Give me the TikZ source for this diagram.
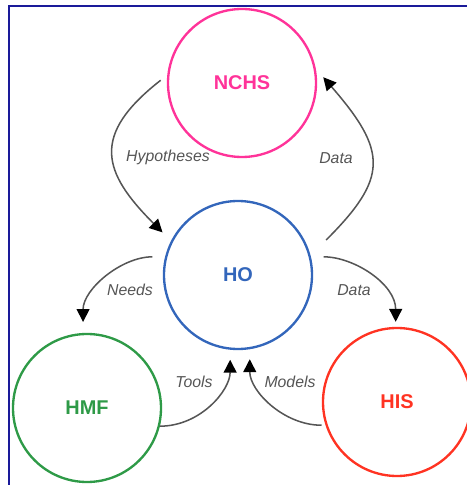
\documentclass[tikz,border=0pt]{standalone}
\usepackage{fontspec}
\setmainfont{Liberation Sans}
\usepackage{tikz}
\usetikzlibrary{shapes,arrows.meta}
\definecolor{nchscol}{HTML}{FF3399}
\definecolor{hocol}{HTML}{3366BB}
\definecolor{hmfcol}{HTML}{2E9A47}
\definecolor{hiscol}{HTML}{FF3322}
\definecolor{framecol}{HTML}{1A1A99}
\definecolor{flowcol}{HTML}{555555}
\tikzset{
  unit/.style={circle,draw,line width=2pt,minimum size=4.44cm,inner sep=0pt,font=\fontsize{17}{17}\selectfont\bfseries},
  flow/.style={draw=flowcol,line width=1.3pt,-{Triangle[length=11pt,width=11pt,color=black]}},
  lbl/.style={anchor=center,text=flowcol,font=\fontsize{13.5}{13.5}\selectfont\itshape}
}
\begin{document}
\begin{tikzpicture}
  \useasboundingbox (-7.14,-6.30) rectangle (6.87,8.25);
  \draw[framecol,line width=1.3pt] (-6.87,-6.30) -- (-6.87,8.07) -- (6.87,8.07);

  \node[unit,draw=nchscol,text=nchscol,xshift=0.12cm,yshift=5.76cm](nchs){NCHS};
  \node[unit,draw=hocol,  text=hocol](ho){HO};
  \node[unit,draw=hmfcol, text=hmfcol,xshift=-4.53cm,yshift=-3.99cm](hmf){HMF};
  \node[unit,draw=hiscol, text=hiscol,xshift=4.77cm,yshift=-3.81cm](his){HIS};

  \draw[flow,shorten <=0.25cm,shorten >=0.36cm] (nchs.174) to[out=218,in=135,looseness=1.5] (ho.153);
  \draw[flow,shorten <=0.66cm,shorten >=0.34cm] (ho.15) to[out=45,in=-49,looseness=1.5] (nchs.11);
  \draw[flow,shorten <=0.38cm,shorten >=0.33cm] (ho.166) to[out=180,in=90] (hmf.93);
  \draw[flow,shorten <=0.38cm,shorten >=0.15cm] (ho.14) to[out=0,in=90] (his.91);
  \draw[flow,shorten >=0.30cm] (hmf.-14) to[out=0,in=-90] (ho.264);
  \draw[flow,shorten <=0.12cm,shorten >=0.30cm] (his.198) to[out=180,in=-90] (ho.279);

  \node[lbl,xshift=-2.10cm,yshift=3.54cm](hyplbl){Hypotheses};
  \node[lbl,xshift=2.94cm,yshift=3.51cm](uplbl){Data};
  \node[lbl,xshift=-3.24cm,yshift=-0.45cm](needlbl){Needs};
  \node[lbl,xshift=3.48cm,yshift=-0.45cm](downlbl){Data};
  \node[lbl,xshift=-1.32cm,yshift=-3.21cm](toollbl){Tools};
  \node[lbl,xshift=1.56cm,yshift=-3.21cm](modlbl){Models};
\end{tikzpicture}
\end{document}
